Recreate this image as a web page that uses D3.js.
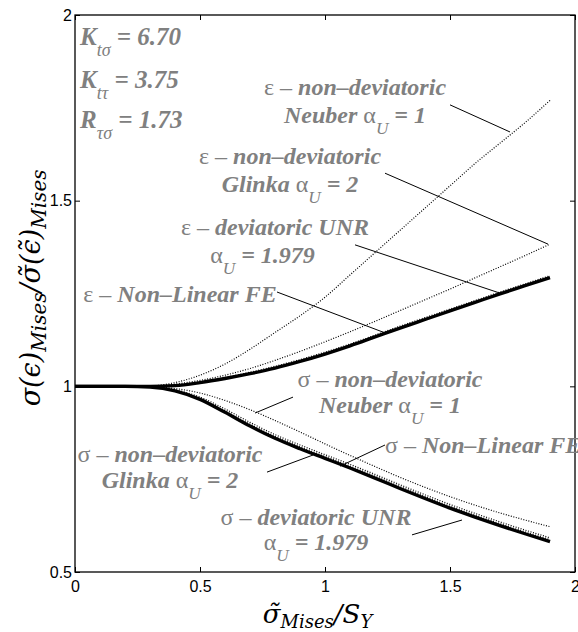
<!DOCTYPE html>
<html>
<head>
<meta charset="utf-8">
<script src="https://cdn.jsdelivr.net/npm/d3@7"></script>
<style>
  body { margin: 0; background: #fff; }
  .anot { font-family: "Liberation Serif", "Times New Roman", serif; font-weight: bold; font-style: italic; fill: #808080; }
  .tick-label { font-family: "Liberation Sans", Arial, sans-serif; font-size: 16px; fill: #000; }
</style>
</head>
<body>
<svg id="grafico" width="578" height="632"></svg>
<script>
// dados -------------------------------------------------------------------
const xVals = [0, 0.1, 0.2, 0.3, 0.4, 0.5, 0.6, 0.7, 0.8, 0.9, 1.0, 1.1, 1.2, 1.3, 1.4, 1.5, 1.6, 1.7, 1.8, 1.9];

const epsNeuber = [1, 1, 1, 1.001, 1.01, 1.03, 1.06, 1.1, 1.145, 1.19, 1.24, 1.3, 1.36, 1.42, 1.48, 1.54, 1.6, 1.655, 1.71, 1.77];
const epsGlinka = [1, 1, 1, 1.001, 1.006, 1.016, 1.03, 1.048, 1.07, 1.094, 1.12, 1.147, 1.175, 1.204, 1.233, 1.262, 1.292, 1.322, 1.352, 1.383];
const epsUNR    = [1, 1, 1, 1, 1.003, 1.012, 1.024, 1.038, 1.054, 1.072, 1.092, 1.114, 1.138, 1.162, 1.185, 1.208, 1.231, 1.254, 1.276, 1.298];
const epsFE     = [1, 1, 1, 1, 1.002, 1.01, 1.021, 1.034, 1.049, 1.067, 1.087, 1.109, 1.133, 1.157, 1.18, 1.203, 1.226, 1.249, 1.271, 1.293];

const sigNeuber = [1, 1, 1, 0.999, 0.994, 0.982, 0.962, 0.937, 0.908, 0.877, 0.845, 0.814, 0.784, 0.755, 0.728, 0.703, 0.68, 0.659, 0.64, 0.622];
const sigGlinka = [1, 1, 1, 0.999, 0.991, 0.971, 0.939, 0.903, 0.87, 0.842, 0.816, 0.79, 0.763, 0.735, 0.708, 0.682, 0.658, 0.635, 0.613, 0.592];
const sigUNR    = [1, 1, 1, 0.998, 0.989, 0.967, 0.934, 0.898, 0.865, 0.837, 0.811, 0.785, 0.758, 0.73, 0.703, 0.677, 0.653, 0.63, 0.608, 0.587];
const sigFE     = [1, 1, 1, 0.998, 0.988, 0.965, 0.93, 0.893, 0.86, 0.832, 0.806, 0.78, 0.753, 0.725, 0.698, 0.672, 0.648, 0.625, 0.603, 0.582];

const xTicks = [0, 0.5, 1, 1.5, 2];
const yTicks = [0.5, 1, 1.5, 2];

// textos das anotações: [x, y (dados), alinhamento, segmentos]
// segmento: [texto, tipo]  tipo: "" normal, "g" grego, "s" subscrito
const paramLabels = [
  [0.02, 1.919, [["K", ""], ["tσ", "s"], [" = 6.70", ""]]],
  [0.02, 1.803, [["K", ""], ["tτ", "s"], [" = 3.75", ""]]],
  [0.02, 1.696, [["R", ""], ["τσ", "s"], [" = 1.73", ""]]]
];

const curveLabels = [
  [1.12, 1.785, 'middle', [["ε – ", "g"], [" non–deviatoric", ""]]],
  [1.12, 1.709, 'middle', [["Neuber ", ""], ["α", "g"], ["U", "s"], [" = 1", ""]]],
  [0.86, 1.599, 'middle', [["ε – ", "g"], [" non–deviatoric", ""]]],
  [0.86, 1.523, 'middle', [["Glinka ", ""], ["α", "g"], ["U", "s"], [" = 2", ""]]],
  [0.8,  1.408, 'middle', [["ε – ", "g"], ["deviatoric UNR", ""]]],
  [0.75, 1.332, 'middle', [["α", "g"], ["U", "s"], [" = 1.979", ""]]],
  [0.42, 1.227, 'middle', [["ε – ", "g"], ["Non–Linear FE", ""]]],
  [1.26, 0.998, 'middle', [["σ – ", "g"], [" non–deviatoric", ""]]],
  [1.26, 0.928, 'middle', [["Neuber ", ""], ["α", "g"], ["U", "s"], [" = 1", ""]]],
  [0.38, 0.796, 'middle', [["σ – ", "g"], [" non–deviatoric", ""]]],
  [0.38, 0.726, 'middle', [["Glinka ", ""], ["α", "g"], ["U", "s"], [" = 2", ""]]],
  [1.24, 0.82,  'start',  [["σ – ", "g"], ["Non–Linear FE", ""]]],
  [0.964, 0.627, 'middle', [["σ – ", "g"], ["deviatoric UNR", ""]]],
  [0.964, 0.559, 'middle', [["α", "g"], ["U", "s"], [" = 1.979", ""]]]
];

// linhas de chamada: [x1, y1, x2, y2] em coordenadas dos dados
const leaders = [
  [1.5, 1.758, 1.74, 1.685],
  [1.24, 1.574, 1.892, 1.383],
  [1.12, 1.381, 1.70, 1.251],
  [0.808, 1.254, 1.24, 1.144],
  [0.872, 0.971, 0.72, 0.928],
  [0.768, 0.769, 0.952, 0.815],
  [1.24, 0.842, 1.06, 0.785],
  [1.348, 0.600, 1.548, 0.640]
];

// -------------------------------------------------------------------------
const margin = {top: 15, right: 3, bottom: 60, left: 75};
const width = 578 - margin.left - margin.right;
const height = 632 - margin.top - margin.bottom;

const svg = d3.select('#grafico');
const g = svg.append('g').attr('transform', 'translate(' + margin.left + ',' + margin.top + ')');

const x = d3.scaleLinear().domain([0, 2]).range([0, width]);
const y = d3.scaleLinear().domain([0.5, 2]).range([height, 0]);

// eixos estilo matlab: ticks para dentro, caixa fechada
g.append('g')
  .attr('transform', 'translate(0,' + height + ')')
  .call(d3.axisBottom(x).tickValues(xTicks).tickSize(-5).tickSizeOuter(0).tickPadding(9).tickFormat(d3.format('')))
  .call(ax => ax.select('.domain').remove())
  .call(ax => ax.selectAll('text').attr('class', 'tick-label').attr('font-size', null).attr('font-family', null));
g.append('g')
  .call(d3.axisTop(x).tickValues(xTicks).tickSize(-5).tickSizeOuter(0).tickFormat(''))
  .call(ax => ax.select('.domain').remove());
g.append('g')
  .call(d3.axisLeft(y).tickValues(yTicks).tickSize(-5).tickSizeOuter(0).tickPadding(3).tickFormat(d3.format('')))
  .call(ax => ax.select('.domain').remove())
  .call(ax => ax.selectAll('text').attr('class', 'tick-label').attr('font-size', null).attr('font-family', null));
g.append('g')
  .attr('transform', 'translate(' + width + ',0)')
  .call(d3.axisRight(y).tickValues(yTicks).tickSize(-5).tickSizeOuter(0).tickFormat(''))
  .call(ax => ax.select('.domain').remove());

g.append('rect')
  .attr('width', width).attr('height', height)
  .attr('fill', 'none').attr('stroke', '#000').attr('stroke-width', 1.3);

// curvas
const line = d3.line()
  .x((d, i) => x(xVals[i]))
  .y(d => y(d))
  .curve(d3.curveMonotoneX);

const series = [
  [epsNeuber, 'dot'], [epsGlinka, 'dot'], [epsUNR, 'dot'],
  [sigNeuber, 'dot'], [sigGlinka, 'dot'], [sigUNR, 'dot'],
  [epsFE, 'solid'], [sigFE, 'solid']
];

series.forEach(function(s) {
  g.append('path')
    .datum(s[0])
    .attr('d', line)
    .attr('fill', 'none')
    .attr('stroke', '#000')
    .attr('stroke-width', s[1] === 'solid' ? 3.4 : 1.2)
    .attr('stroke-dasharray', s[1] === 'solid' ? null : '1,1.6');
});

// linhas de chamada
g.selectAll('.leader')
  .data(leaders)
  .enter()
  .append('line')
  .attr('x1', d => x(d[0])).attr('y1', d => y(d[1]))
  .attr('x2', d => x(d[2])).attr('y2', d => y(d[3]))
  .attr('stroke', '#000').attr('stroke-width', 1);

// textos com subscrito
function escreve(sel, segs, size) {
  segs.forEach(function(s, i) {
    const t = sel.append('tspan').text(s[0]);
    if (s[1] === 'g') {
      t.attr('font-style', 'normal').attr('font-weight', 'normal');
    } else if (s[1] === 's') {
      t.attr('font-size', size * 0.72).attr('dy', size * 0.45)
        .attr('font-weight', 'normal');
    }
    // volta para a linha base se o anterior era subscrito
    const prev = segs[i - 1];
    if (s[1] !== 's' && prev && prev[1] === 's') t.attr('dy', -size * 0.45);
  });
}

paramLabels.forEach(function(p) {
  const t = g.append('text').attr('class', 'anot')
    .attr('x', x(p[0])).attr('y', y(p[1]))
    .attr('font-size', 25);
  escreve(t, p[2], 25);
});

curveLabels.forEach(function(p) {
  const t = g.append('text').attr('class', 'anot')
    .attr('x', x(p[0])).attr('y', y(p[1]))
    .attr('text-anchor', p[2])
    .attr('font-size', 24);
  escreve(t, p[3], 24);
});

// títulos dos eixos (estilo latex)
const xt = svg.append('text')
  .attr('x', margin.left + width * 0.485).attr('y', 623)
  .attr('text-anchor', 'middle')
  .attr('font-family', '"DejaVu Serif", serif').attr('font-style', 'italic')
  .attr('font-size', 26);
xt.append('tspan').text('σ̃');
xt.append('tspan').text('Mises').attr('font-size', 18).attr('dy', 5);
xt.append('tspan').text('/S').attr('dy', -5);
xt.append('tspan').text('Y').attr('font-size', 18).attr('dy', 5);

const yt = svg.append('text')
  .attr('transform', 'translate(40,' + (margin.top + height * 0.49) + ') rotate(-90)')
  .attr('text-anchor', 'middle')
  .attr('font-family', '"DejaVu Serif", serif').attr('font-style', 'italic')
  .attr('font-size', 27);
yt.append('tspan').text('σ(ϵ)');
yt.append('tspan').text('Mises').attr('font-size', 20).attr('dy', 6);
yt.append('tspan').text('/σ̃(ϵ̃)').attr('dy', -6);
yt.append('tspan').text('Mises').attr('font-size', 20).attr('dy', 6);
</script>
</body>
</html>
